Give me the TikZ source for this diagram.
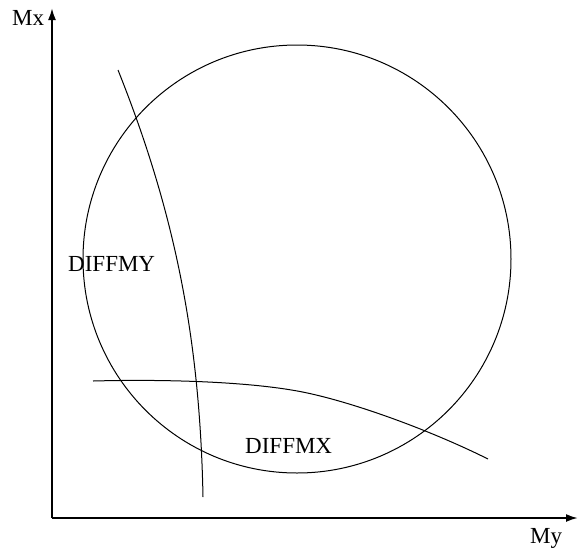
\documentclass[tikz,border=0pt]{standalone}
\usepackage{fontspec}
\setmainfont{Liberation Serif}
\usetikzlibrary{arrows.meta}

\begin{document}
\begin{tikzpicture}[x=1pt,y=-1pt]
\tikzset{lbl/.style={anchor=base west,inner sep=0pt,font=\fontsize{23}{27}\selectfont}}

\useasboundingbox (0,0) rectangle (579,550);

% Axis and ticks
\coordinate (O) at (52,518);
\coordinate (xtip) at (578,518);
\coordinate (ytip) at (52,8);
\draw[line width=2, -{Latex[length=12,width=8]}] (O) -- (xtip);
\draw[line width=2, -{Latex[length=12,width=8]}] (O) -- (ytip);
\node[lbl] (mx) at (12,25) {Mx};
\node[lbl] (my) at (530,543) {My};

% the circle
\draw[line width=1] (297,259) circle (214);

% DIFFMY curve
\draw[line width=1] (118,70) .. controls (178,220) and (200,347) .. (203,497);
% DIFFMX curve
\draw[line width=1] (93,381) .. controls (170,379) and (250,382) .. (300,391.5)
  .. controls (350,401) and (430,430) .. (488,459);

\node[lbl] (diffmy) at (68,271) {DIFFMY};
\node[lbl] (diffmx) at (245,453) {DIFFMX};

\end{tikzpicture}
\end{document}
